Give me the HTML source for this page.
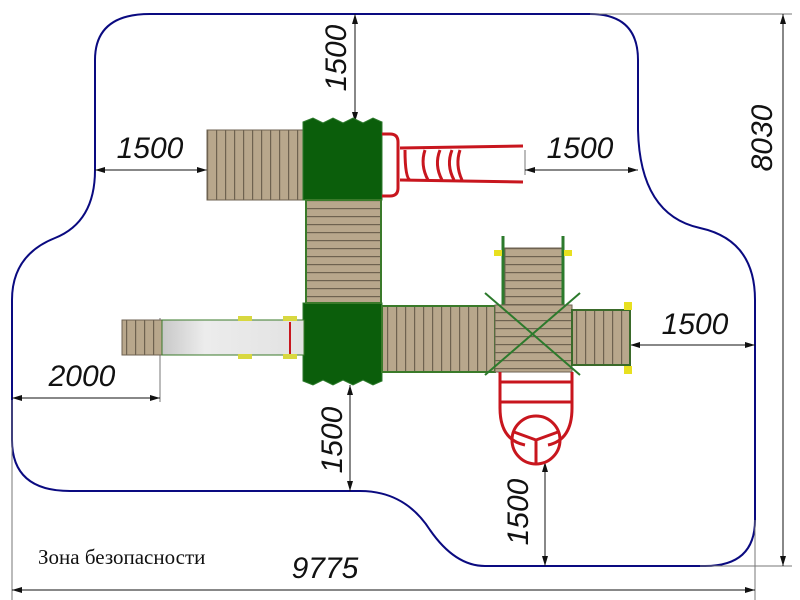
<!DOCTYPE html>
<html><head><meta charset="utf-8"><style>
html,body{margin:0;padding:0;background:#fff;}
svg{display:block}
.d{font-family:"Liberation Sans",sans-serif;font-style:italic;font-size:30px;fill:#111;}
</style></head><body>
<svg width="800" height="600" viewBox="0 0 800 600" xmlns="http://www.w3.org/2000/svg">
<defs>
<marker id="a" viewBox="0 0 10 6" refX="10" refY="3" markerWidth="10" markerHeight="6" orient="auto-start-reverse" markerUnits="userSpaceOnUse"><path d="M0 0 L10 3 L0 6 Z" fill="#111"/></marker>
<pattern id="vs" width="9" height="10" patternUnits="userSpaceOnUse"><rect width="9" height="10" fill="#b8a78c"/><rect width="1.2" height="10" fill="#6e6250"/></pattern>
<pattern id="hs" width="10" height="8" patternUnits="userSpaceOnUse"><rect width="10" height="8" fill="#b8a78c"/><rect width="10" height="1.2" fill="#6e6250"/></pattern>
<linearGradient id="sl" x1="0" x2="1"><stop offset="0" stop-color="#c8c8c8"/><stop offset="0.3" stop-color="#ececec"/><stop offset="1" stop-color="#e2e2e2"/></linearGradient>
</defs>
<path d="M150 14 L590 14 Q638 14 638 60 L638 130 Q640 215 700 228 Q755 240 755 300 L755 520 Q755 566 705 566 L485 566 Q455 566 430 530 Q405 491 360 491 L70 491 Q12 491 12 440 L12 300 Q12 255 55 238 Q95 222 95 170 L95 60 Q95 14 150 14 Z" fill="none" stroke="#0a0a80" stroke-width="2"/>
<g stroke="#777" stroke-width="1" fill="none">
<line x1="590" y1="14" x2="792" y2="14"/>
<line x1="700" y1="566" x2="792" y2="566"/>
<line x1="12" y1="400" x2="12" y2="600"/>
<line x1="755" y1="520" x2="755" y2="600"/>
<line x1="160" y1="318" x2="160" y2="402"/>
<line x1="207" y1="130" x2="207" y2="175"/>
<line x1="525" y1="150" x2="525" y2="175"/>
<line x1="630" y1="330" x2="630" y2="350"/>
</g>
<g stroke="#111" stroke-width="1" fill="none">
<line x1="783" y1="14" x2="783" y2="566" marker-start="url(#a)" marker-end="url(#a)"/>
<line x1="12" y1="590" x2="755" y2="590" marker-start="url(#a)" marker-end="url(#a)"/>
<line x1="355" y1="14" x2="355" y2="122" marker-start="url(#a)" marker-end="url(#a)"/>
<line x1="95" y1="170" x2="207" y2="170" marker-start="url(#a)" marker-end="url(#a)"/>
<line x1="525" y1="170" x2="638" y2="170" marker-start="url(#a)" marker-end="url(#a)"/>
<line x1="630" y1="345" x2="755" y2="345" marker-start="url(#a)" marker-end="url(#a)"/>
<line x1="12" y1="398" x2="160" y2="398" marker-start="url(#a)" marker-end="url(#a)"/>
<line x1="350" y1="385" x2="350" y2="491" marker-start="url(#a)" marker-end="url(#a)"/>
<line x1="545" y1="462" x2="545" y2="566" marker-start="url(#a)" marker-end="url(#a)"/>
</g>
<text class="d" x="150" y="158" text-anchor="middle">1500</text>
<text class="d" x="580" y="158" text-anchor="middle">1500</text>
<text class="d" x="695" y="334" text-anchor="middle">1500</text>
<text class="d" x="82" y="386" text-anchor="middle">2000</text>
<text class="d" x="325" y="578" text-anchor="middle">9775</text>
<text class="d" transform="translate(346,58) rotate(-90)" text-anchor="middle">1500</text>
<text class="d" transform="translate(342,440) rotate(-90)" text-anchor="middle">1500</text>
<text class="d" transform="translate(528,512) rotate(-90)" text-anchor="middle">1500</text>
<text class="d" transform="translate(772,138) rotate(-90)" text-anchor="middle">8030</text>
<text x="38" y="564" font-family="Liberation Serif,serif" font-size="21" fill="#111">Зона безопасности</text>
<rect x="207" y="130" width="96" height="70" fill="url(#vs)" stroke="#6e6250"/>
<path d="M303 122 L313 118 L323 123 L333 118 L343 123 L353 118 L363 123 L373 118 L382 122 L382 200 L303 200 Z" fill="#0b5e0b" stroke="#2c7a2c"/>
<path d="M303 303 L382 303 L382 381 L373 385 L363 380 L353 385 L343 380 L333 385 L323 380 L313 385 L303 381 Z" fill="#0b5e0b" stroke="#2c7a2c"/>
<rect x="306" y="200" width="75" height="103" fill="url(#hs)" stroke="#3a7a2a" stroke-width="2"/>
<g fill="none" stroke="#c8161e" stroke-width="3">
<path d="M382 134 L390 134 Q398 134 398 142 L398 188 Q398 196 390 196 L382 196"/>
<path d="M400 148 L523 146 M400 180 L523 182"/>
<path d="M405 150 Q405 178 410 180 M425 150 Q420 165 428 180 M440 150 Q434 165 442 180 M452 150 Q446 165 454 180 M460 150 Q455 165 462 180"/>
</g>
<rect x="122" y="320" width="40" height="35" fill="url(#vs)" stroke="#6e6250"/>
<rect x="162" y="320" width="142" height="35" fill="url(#sl)" stroke="#3a7a2a"/>
<rect x="238" y="316" width="14" height="5" fill="#d8d840"/><rect x="238" y="354" width="14" height="5" fill="#d8d840"/>
<rect x="283" y="316" width="14" height="5" fill="#d8d840"/><rect x="283" y="354" width="14" height="5" fill="#d8d840"/>
<line x1="290" y1="322" x2="290" y2="354" stroke="#c8161e" stroke-width="2"/>
<rect x="382" y="306" width="113" height="66" fill="url(#vs)" stroke="#3a7a2a" stroke-width="2"/>
<rect x="505" y="248" width="58" height="57" fill="url(#hs)" stroke="#6e6250"/>
<line x1="503" y1="236" x2="503" y2="305" stroke="#2c7a2c" stroke-width="3"/>
<line x1="563" y1="236" x2="563" y2="305" stroke="#2c7a2c" stroke-width="3"/>
<rect x="494" y="250" width="8" height="6" fill="#e8e020"/><rect x="564" y="250" width="8" height="6" fill="#e8e020"/>
<rect x="495" y="305" width="77" height="67" fill="url(#hs)" stroke="#6e6250"/>
<line x1="485" y1="293" x2="580" y2="375" stroke="#2c7a2c" stroke-width="2"/>
<line x1="580" y1="293" x2="485" y2="375" stroke="#2c7a2c" stroke-width="2"/>
<rect x="572" y="310" width="58" height="55" fill="url(#vs)" stroke="#3a6a2a" stroke-width="2"/>
<rect x="624" y="302" width="8" height="8" fill="#e8e020"/><rect x="624" y="366" width="8" height="8" fill="#e8e020"/>
<g fill="none" stroke="#c8161e" stroke-width="3">
<path d="M500 372 L500 408 Q500 440 525 445 M572 372 L572 408 Q572 440 548 445"/>
<line x1="500" y1="382" x2="572" y2="382"/><line x1="500" y1="402" x2="572" y2="402"/>
<circle cx="536" cy="440" r="24"/>
<path d="M536 440 L536 463 M536 440 L514 432 M536 440 L558 432"/>
</g>
</svg>
</body></html>
